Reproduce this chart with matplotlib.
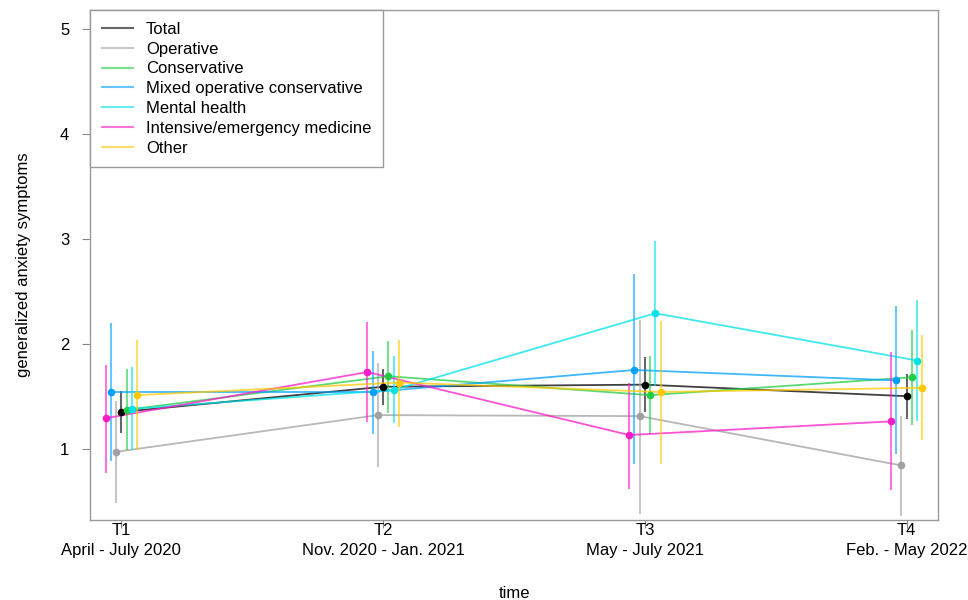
import numpy as np
import matplotlib
matplotlib.use('Agg')
import matplotlib.pyplot as plt
from matplotlib.lines import Line2D

plt.rcParams['font.family'] = ['Liberation Sans', 'DejaVu Sans']

# time points
times = [1, 2, 3, 4]
tick_labels = ['T1\nApril - July 2020', 'T2\nNov. 2020 - Jan. 2021',
               'T3\nMay - July 2021', 'T4\nFeb. - May 2022']

groups = ['Total', 'Operative', 'Conservative', 'Mixed operative conservative',
          'Mental health', 'Intensive/emergency medicine', 'Other']
colors = ['#000000', '#a0a0a0', '#22cc44', '#00a0ff', '#00e2e8', '#ff1ac8', '#ffc800']
offsets = [0.0, -0.02, 0.02, -0.04, 0.04, -0.06, 0.06]

# means and 95% CI per group (T1..T4)
total_m = [1.35, 1.59, 1.61, 1.50]
total_lo = [1.15, 1.42, 1.35, 1.28]
total_hi = [1.55, 1.76, 1.87, 1.71]

operative_m = [0.97, 1.32, 1.31, 0.84]
operative_lo = [0.48, 0.83, 0.38, 0.36]
operative_hi = [1.45, 1.82, 2.23, 1.31]

conservative_m = [1.37, 1.69, 1.51, 1.68]
conservative_lo = [0.99, 1.34, 1.14, 1.23]
conservative_hi = [1.76, 2.03, 1.88, 2.13]

mixed_m = [1.54, 1.54, 1.75, 1.65]
mixed_lo = [0.88, 1.14, 0.85, 0.95]
mixed_hi = [2.20, 1.93, 2.66, 2.36]

mental_m = [1.38, 1.56, 2.29, 1.84]
mental_lo = [0.99, 1.24, 1.60, 1.26]
mental_hi = [1.78, 1.88, 2.98, 2.42]

intensive_m = [1.29, 1.73, 1.13, 1.26]
intensive_lo = [0.77, 1.25, 0.62, 0.61]
intensive_hi = [1.80, 2.21, 1.63, 1.92]

other_m = [1.51, 1.63, 1.54, 1.58]
other_lo = [0.99, 1.21, 0.85, 1.08]
other_hi = [2.04, 2.04, 2.22, 2.08]

means = [total_m, operative_m, conservative_m, mixed_m, mental_m, intensive_m, other_m]
lows = [total_lo, operative_lo, conservative_lo, mixed_lo, mental_lo, intensive_lo, other_lo]
highs = [total_hi, operative_hi, conservative_hi, mixed_hi, mental_hi, intensive_hi, other_hi]

fig = plt.figure(figsize=(9.68, 6), dpi=100)
ax = fig.add_axes([0.093, 0.1333, 0.876, 0.85])

for i in range(len(groups)):
    x = np.array(times) + offsets[i]
    ax.plot(x, means[i], color=colors[i], lw=1.3, alpha=0.75, zorder=2)
    ax.vlines(x, lows[i], highs[i], color=colors[i], lw=1.5, alpha=0.6, zorder=2)
    ax.plot(x, means[i], 'o', color=colors[i], ms=5.5, mec='none', zorder=3)

ax.set_xlim(0.88, 4.12)
ax.set_ylim(0.32, 5.18)
ax.set_yticks([1, 2, 3, 4, 5])
ax.set_xticks(times)
ax.set_xticklabels(tick_labels, fontsize=12, linespacing=1.45)
ax.tick_params(axis='y', labelsize=12, length=6, color='#888888', pad=9)
ax.tick_params(axis='x', length=6, color='#888888', pad=-4)
for s in ax.spines.values():
    s.set_color('#999999')
    s.set_linewidth(1)
ax.set_ylabel('generalized anxiety symptoms', fontsize=12, labelpad=21)
ax.set_xlabel('time', fontsize=12, labelpad=20)

handles = [Line2D([0], [0], color=c, lw=1.5, alpha=0.6) for c in colors]
leg = ax.legend(handles, groups, loc='upper left', bbox_to_anchor=(0, 1),
                borderaxespad=0, fancybox=False, framealpha=1, edgecolor='#999999',
                fontsize=12, handlelength=1.85, labelspacing=0.29, handletextpad=0.8,
                borderpad=0.7)
leg.get_frame().set_linewidth(1)

plt.savefig('out.png', dpi=100)
